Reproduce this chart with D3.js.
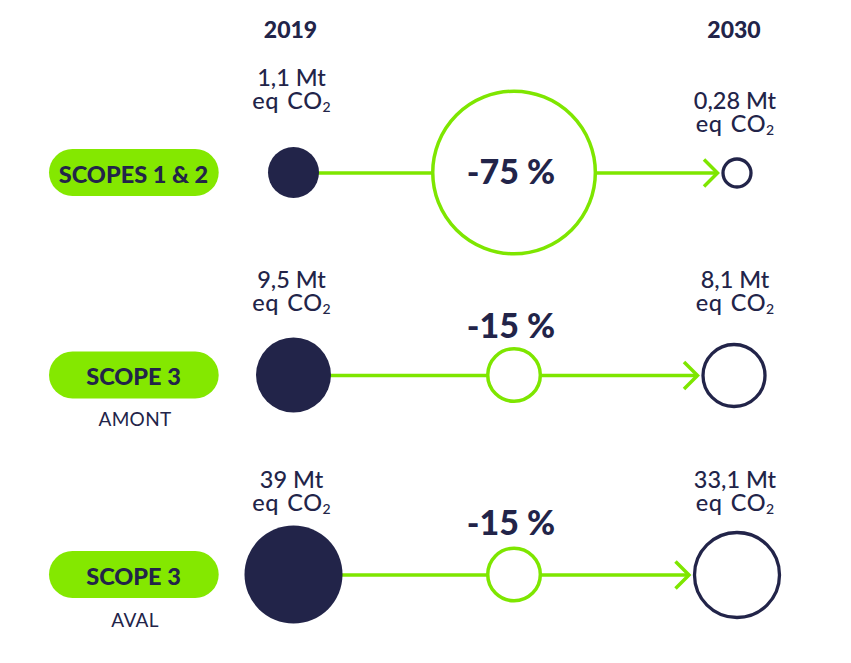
<!DOCTYPE html>
<html>
<head>
<meta charset="utf-8">
<script src="https://cdn.jsdelivr.net/npm/d3@7"></script>
<style>
body { margin: 0; background: #fff; }
text { font-family: Lato, "Open Sans", sans-serif; fill: #222449; }
</style>
</head>
<body>
<svg id="chart" width="851" height="663"></svg>
<script>
var rows = ["SCOPES 1 & 2", "SCOPE 3", "SCOPE 3"]
var subLabels = ["", "AMONT", "AVAL"]
var years = [2019, 2030]
var values2019 = [1.1, 9.5, 39]
var values2030 = [0.28, 8.1, 33.1]
var labels2019 = ["1,1 Mt", "9,5 Mt", "39 Mt"]
var labels2030 = ["0,28 Mt", "8,1 Mt", "33,1 Mt"]
var changes = [75, 15, 15]
var changeLabels = ["-75 %", "-15 %", "-15 %"]

var navy = "#222449"
var green = "#7ee600"
var pill = "#84e800"

var svg = d3.select("#chart")

var x = d3.scaleLinear().domain([2019, 2030]).range([293.5, 737])
var y = d3.scaleOrdinal().domain([0, 1, 2]).range([173, 375.5, 575])
var r2019 = d3.scaleLinear().domain([1.1, 9.5, 39]).range([25.5, 37.5, 49])
var r2030 = d3.scaleLinear().domain([0.28, 8.1, 33.1]).range([14, 31, 42.5])
var rChange = d3.scaleLinear().domain([15, 75]).range([26.3, 81.3])
var midYear = 2024.47

// the middle 2030 ring sits a bit left of the others
var ringNudge = [0, -3, 0]
var changeY = [184, 338, 535]
var subY = [0, 426, 627]
var labelY2019 = [86, 288, 488]
var labelY2030 = [109, 288, 488]

function tipX(i) {
  return x(2030) + ringNudge[i] - r2030(values2030[i]) - 5.5
}

// year headers
svg.selectAll(".year").data(years).enter().append("text")
  .attr("x", function(d) { return x(d) - 3 })
  .attr("y", 38)
  .attr("text-anchor", "middle")
  .attr("font-size", 23)
  .attr("font-weight", 900)
  .text(function(d) { return d })

var row = svg.selectAll(".row").data(rows).enter().append("g")

// connector
row.append("line")
  .attr("x1", x(2019))
  .attr("x2", function(d, i) { return tipX(i) })
  .attr("y1", function(d, i) { return y(i) })
  .attr("y2", function(d, i) { return y(i) })
  .attr("stroke", green).attr("stroke-width", 3.3)

// arrow head
row.append("path")
  .attr("d", function(d, i) {
    var p = d3.path()
    p.moveTo(tipX(i) - 13.5, y(i) - 13.5)
    p.lineTo(tipX(i), y(i))
    p.lineTo(tipX(i) - 13.5, y(i) + 13.5)
    return p.toString()
  })
  .attr("fill", "none").attr("stroke", green).attr("stroke-width", 3.5)

// 2019 discs
row.append("circle")
  .attr("cx", x(2019))
  .attr("cy", function(d, i) { return y(i) - 0.5 })
  .attr("r", function(d, i) { return r2019(values2019[i]) })
  .attr("fill", navy)

// 2030 rings
row.append("circle")
  .attr("cx", function(d, i) { return x(2030) + ringNudge[i] })
  .attr("cy", function(d, i) { return y(i) })
  .attr("r", function(d, i) { return r2030(values2030[i]) })
  .attr("fill", "#fff").attr("stroke", navy).attr("stroke-width", 3.3)

// reduction circles
row.append("circle")
  .attr("cx", x(midYear))
  .attr("cy", function(d, i) { return y(i) - 0.5 })
  .attr("r", function(d, i) { return rChange(changes[i]) })
  .attr("fill", "#fff").attr("stroke", green).attr("stroke-width", 3.5)

row.append("text")
  .attr("x", x(midYear) - 3)
  .attr("y", function(d, i) { return changeY[i] })
  .attr("text-anchor", "middle")
  .attr("font-size", 34)
  .attr("font-weight", 900)
  .text(function(d, i) { return changeLabels[i] })

// scope pills
row.append("rect")
  .attr("x", 49).attr("width", 169.7)
  .attr("y", function(d, i) { return y(i) - 24 })
  .attr("height", 47).attr("rx", 23.5)
  .attr("fill", pill)

row.append("text")
  .attr("x", 133.5)
  .attr("y", function(d, i) { return y(i) + 9.5 })
  .attr("text-anchor", "middle")
  .attr("font-size", 23.5)
  .attr("font-weight", 900)
  .text(function(d) { return d })

// only the two scope 3 rows have a line under the pill
var withSub = d3.range(rows.length).filter(function(i) { return subLabels[i] != "" })
svg.selectAll(".sub").data(withSub).enter().append("text")
  .attr("x", 135)
  .attr("y", function(d) { return subY[d] })
  .attr("text-anchor", "middle")
  .attr("font-size", 19)
  .attr("letter-spacing", 0.3)
  .text(function(d) { return subLabels[d] })

// value labels, both lines in one text
function valueLabel(sel, xpos, labels, ys) {
  var t = sel.append("text")
    .attr("y", function(d, i) { return ys[i] })
    .attr("text-anchor", "middle")
    .attr("font-size", 23.5)
    .attr("font-weight", 500)
  t.append("tspan")
    .attr("x", xpos)
    .text(function(d, i) { return labels[i] })
  t.append("tspan")
    .attr("x", xpos)
    .attr("dy", 23)
    .attr("letter-spacing", 0.5)
    .attr("word-spacing", 2)
    .text("eq CO")
  t.append("tspan").attr("font-size", 14).attr("dy", 3).text("2")
}
valueLabel(row, x(2019) - 2, labels2019, labelY2019)
valueLabel(row, x(2030) - 2, labels2030, labelY2030)
</script>
</body>
</html>
